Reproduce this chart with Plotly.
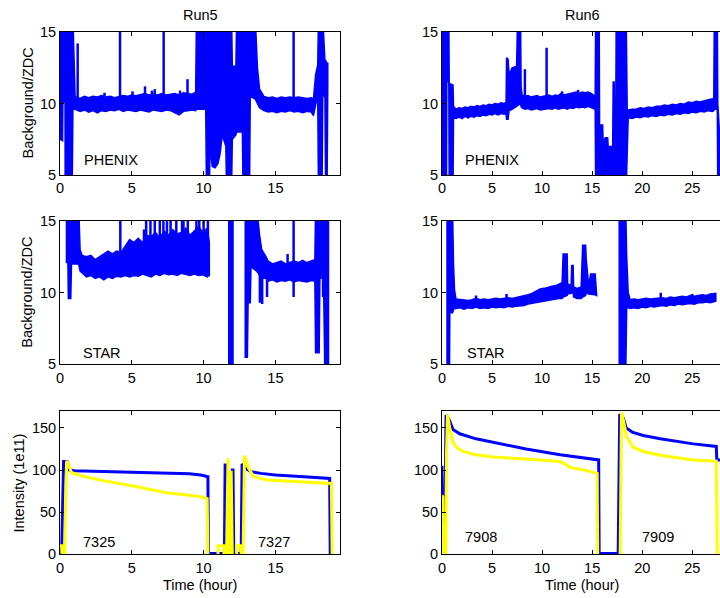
import plotly.graph_objects as go

# ---------------- data ----------------
# Background/ZDC bands: time (h), lower edge, upper edge.  16 / 4 = off-scale (clipped).
# None separates pieces of a band.
r5_phenix_t = [0.00, 0.18, 0.20, 0.35, 0.36, 0.85, 0.90, 1.05,
               1.1, 1.4, 1.7, 2.0, 2.3, 2.6, 2.9, 3.2, 3.5, 3.8, 4.1, 4.4, 4.7, 5.0, 5.3, 5.6, 5.9, 6.2,
               6.5, 6.8, 7.1, 7.4, 7.7, 8.0, 8.3, 8.6, 8.9, 9.2, 9.45,
               9.50, 10.15, 10.20, 10.40, 10.45, 10.60, 10.80, 11.00, 11.15, 11.30, 11.55, 11.60, 11.95,
               12.00, 12.25, 12.30, 12.70, 12.75, 13.20, 13.25, 13.60, 13.75, 13.90,
               14.2, 14.5, 14.8, 15.1, 15.4, 15.7, 16.0, 16.3, 16.6, 16.9, 17.2, 17.5, 17.65,
               17.80, 17.95, 18.00, 18.25, 18.30, 18.45, 18.50, 18.60, 18.65]
r5_phenix_lo = [7.5, 7.4, 10.1, 10.1, 4, 4, 9.6, 9.6,
                9.6, 9.45, 9.55, 9.4, 9.5, 9.35, 9.5, 9.45, 9.55, 9.5, 9.6, 9.45, 9.55, 9.5, 9.45, 9.55, 9.5, 9.4,
                9.55, 9.5, 9.45, 9.55, 9.5, 9.35, 9.2, 9.45, 9.5, 9.55, 9.5,
                9.6, 9.6, 4, 4, 7.0, 5.6, 5.5, 5.8, 6.5, 7.8, 7.0, 4, 4,
                7.5, 7.8, 8.0, 8.0, 4, 4, 10.5, 10.3, 10.0, 9.7,
                9.5, 9.4, 9.45, 9.35, 9.45, 9.4, 9.5, 9.4, 9.45, 9.35, 9.45, 9.4, 9.15,
                9.9, 10.5, 4, 4, 10.5, 10.5, 4, 4, 11.3]
r5_phenix_hi = [16, 16, 16, 16, 16, 16, 16, 10.5,
                10.45, 10.35, 10.5, 10.4, 10.5, 10.45, 10.55, 10.45, 10.5, 10.4, 10.5, 10.55, 10.5, 10.6, 10.55,
                10.6, 10.7, 10.6, 10.65, 10.6, 10.7, 10.6, 10.65, 10.7, 10.6, 10.75, 10.7, 10.65, 10.8,
                16, 16, 16, 16, 16, 16, 16, 16, 16, 16, 16, 16, 16,
                12.6, 12.6, 16, 16, 16, 16, 16, 16, 12.5, 11.0,
                10.5, 10.4, 10.45, 10.35, 10.45, 10.4, 10.45, 10.4, 10.45, 10.4, 10.35, 10.4, 10.3,
                12.0, 12.7, 16, 16, 16, 13.0, 13.0, 12.8, 12.8]
# spikes: time, bottom, top
r5_phenix_spk_t = [1.23, 3.1, 4.18, 5.05, 5.92, 6.4, 6.6, 7.22, 8.36, 8.88, 16.27]
r5_phenix_spk_y0 = [10, 10, 10, 10, 10, 10, 10, 10, 10, 10, 10]
r5_phenix_spk_y1 = [14.2, 10.75, 16, 10.85, 11.2, 10.9, 11.0, 16, 10.9, 11.7, 16]

r5_star_t = [0.45, 0.55, 0.58, 0.75, 0.80, 1.30, 1.40,
             1.55, 1.85, 2.15, 2.45, 2.75, 3.05, 3.35, 3.65, 3.95, 4.25, 4.55, 4.85, 5.15, 5.45, 5.75, 6.05,
             6.35, 6.65, 6.95, 7.25, 7.55, 7.85, 8.15, 8.45, 8.75, 9.05, 9.35, 9.65, 9.95, 10.25, 10.40, None,
             11.75, 12.05, None,
             12.90, 13.05, 13.10, 13.25, 13.30, 13.70, 13.90, 14.05, 14.35,
             14.5, 14.8, 15.1, 15.4, 15.7, 16.0, 16.3, 16.6, 16.9, 17.2, 17.5, 17.75,
             17.80, 18.05, 18.10, 18.35, 18.45, 18.70]
r5_star_lo = [12.1, 12.1, 9.6, 9.6, 12.0, 12.0, 11.5,
              11.4, 11.1, 11.2, 11.0, 11.1, 10.9, 11.1, 11.0, 11.15, 11.1, 11.2, 11.1, 11.2, 11.15, 11.3, 11.2,
              11.1, 11.3, 11.2, 11.35, 11.25, 11.3, 11.2, 11.35, 11.3, 11.2, 11.3, 11.2, 11.25, 11.1, 11.2, None,
              4, 4, None,
              5.5, 5.5, 9.3, 9.3, 11.8, 11.5, 11.2, 11.0, 11.0,
              10.8, 10.9, 10.75, 10.85, 10.8, 10.9, 10.75, 10.85, 10.8, 10.75, 10.85, 10.8,
              5.8, 5.8, 11.0, 11.0, 4, 4]
r5_star_hi = [16, 16, 16, 16, 16, 16, 13.0,
              12.6, 12.5, 12.6, 12.3, 12.5, 12.7, 12.9, 12.7, 12.9, 12.8, 13.3, 13.7, 13.5, 13.8, 13.5, 14.0,
              13.9, 14.2, 13.8, 14.3, 14.0, 14.4, 14.1, 14.2, 14.5, 14.0, 14.3, 14.6, 14.2, 14.5, 13.5, None,
              16, 16, None,
              16, 16, 16, 16, 16, 16, 14.0, 13.0, 12.5,
              12.2, 12.0, 12.1, 12.2, 12.0, 12.1, 12.2, 12.1, 12.25, 12.1, 12.2, 12.3,
              16, 16, 16, 16, 16, 16]
r5_star_spk_t = [4.2, 5.85, 6.0, 6.3, 6.6, 6.95, 7.2, 7.45, 7.7, 8.1, 8.5, 8.6, 8.9, 9.5, 9.7, 10.0, 10.3,
                 13.92, 14.08, 14.42, 15.85, 16.27, 18.32]
r5_star_spk_y0 = [12, 12, 12, 12, 12, 12, 12, 12, 12, 12, 12, 12, 12, 12, 12, 12, 12,
                  9.3, 9.2, 9.7, 11, 9.7, 9.7]
r5_star_spk_y1 = [16, 14.4, 16, 16, 16, 16, 16, 16, 16, 16, 16, 16, 16, 16, 16, 16, 16,
                  12, 12, 12, 12.7, 16, 12]

r6_phenix_t = [0.00, 0.45, 0.48, 0.68, 0.72, 1.10, 1.15,
               1.4, 1.7, 2.0, 2.3, 2.6, 2.9, 3.2, 3.5, 3.8, 4.1, 4.4, 4.7, 5.0, 5.3, 5.6, 5.9, 6.2, 6.4,
               6.45, 6.60, 6.70, 7.0, 7.45, 7.55, 7.85, 7.90,
               8.0, 8.3, 8.6, 8.9, 9.2, 9.5, 9.8, 10.1, 10.4, 10.7, 11.0, 11.3, 11.6, 11.9, 12.2, 12.5, 12.8,
               13.1, 13.4, 13.7, 14.0, 14.3, 14.6, 14.9, 15.3,
               15.35, 15.70, 15.75, 15.85, 16.05, 16.10, 16.30, 16.55, 16.60, 17.05, 17.10, 17.20, 17.25,
               17.35, 17.40, 18.40, 18.50,
               18.6, 19.0, 19.4, 19.8, 20.2, 20.6, 21.0, 21.4, 21.8, 22.2, 22.6, 23.0, 23.4, 23.8, 24.2, 24.6,
               25.0, 25.4, 25.8, 26.2, 26.6, 27.0, 27.15,
               27.2, 27.5, 27.55, 27.8]
r6_phenix_lo = [4, 4, 11.5, 11.5, 4, 4, 9.0,
                8.95, 9.05, 8.95, 9.1, 9.0, 9.1, 9.05, 9.15, 9.1, 9.2, 9.15, 9.25, 9.2, 9.3, 9.2, 9.3, 9.25, 9.3,
                8.9, 8.9, 9.5, 9.6, 9.8, 9.8, 10.0, 9.8,
                9.7, 9.6, 9.65, 9.55, 9.6, 9.65, 9.55, 9.6, 9.6, 9.65, 9.6, 9.7, 9.6, 9.65, 9.7, 9.6, 9.7,
                9.65, 9.75, 9.7, 9.75, 9.7, 9.8, 9.7, 9.6,
                4, 4, 4, 4, 4, 4, 4, 4, 4, 4, 4, 4, 4,
                4, 4, 4, 4,
                9.0, 8.95, 9.05, 9.0, 9.1, 9.05, 9.15, 9.1, 9.2, 9.15, 9.25, 9.2, 9.3, 9.25, 9.35, 9.3,
                9.4, 9.35, 9.45, 9.4, 9.5, 9.45, 9.5,
                9.6, 9.6, 4, 4]
r6_phenix_hi = [16, 16, 16, 16, 11.4, 11.3, 9.8,
                9.6, 9.7, 9.65, 9.75, 9.7, 9.8, 9.75, 9.85, 9.8, 9.9, 9.85, 9.95, 9.9, 10.0, 9.95, 10.05, 10.0, 10.1,
                13.2, 13.1, 12.0, 12.5, 12.6, 16, 16, 11.2,
                10.6, 10.5, 10.55, 10.45, 10.5, 10.55, 10.45, 10.5, 10.55, 10.6, 10.5, 10.6, 10.55, 10.7, 10.6,
                10.65, 10.7, 10.75, 10.8, 10.7, 10.8, 10.75, 10.8, 10.7, 10.5,
                16, 16, 7.2, 8.5, 8.5, 7.2, 7.6, 7.6, 7.0, 7.0, 11.5, 11.5, 7.5,
                7.5, 16, 16, 9.6,
                9.55, 9.6, 9.6, 9.7, 9.65, 9.75, 9.7, 9.8, 9.8, 9.9, 9.85, 9.95, 9.9, 10.0, 9.95, 10.1,
                10.05, 10.15, 10.1, 10.2, 10.25, 10.3, 10.35,
                16, 16, 10.0, 7.0]
r6_phenix_spk_t = [8.28, 10.45, 12.0, 13.6]
r6_phenix_spk_y0 = [10, 10, 10, 10]
r6_phenix_spk_y1 = [12.4, 13.9, 10.85, 10.95]

r6_star_t = [0.50, 0.75, 0.78, 1.05, 1.15, 1.25,
             1.4, 1.8, 2.2, 2.6, 3.0, 3.4, 3.8, 4.2, 4.6, 5.0, 5.4, 5.8, 6.2, 6.6, 7.0, 7.4, 7.8, 8.2, 8.6,
             9.0, 9.4, 9.8, 10.2, 10.6, 11.0, 11.4, 11.8, 12.0,
             12.10, 12.50, 12.55, 12.9, 12.95, 13.10, 13.15, 13.5, 13.9, 14.05, 14.35, 14.40, 14.65, 14.85,
             15.30, 15.45, None,
             17.70, 18.35, 18.45, 18.60,
             18.8, 19.2, 19.6, 20.0, 20.4, 20.8, 21.2, 21.6, 22.0, 22.4, 22.8, 23.2, 23.6, 24.0, 24.4, 24.8,
             25.2, 25.6, 26.0, 26.4, 26.8, 27.35]
r6_star_lo = [4, 4, 8.6, 8.6, 8.8, 8.9,
              8.9, 8.95, 8.85, 8.95, 8.9, 9.0, 8.9, 8.95, 8.9, 9.0, 8.95, 9.0, 8.95, 9.05, 9.0, 9.05, 9.1, 9.1, 9.2,
              9.25, 9.35, 9.4, 9.45, 9.5, 9.5, 9.55, 9.6, 9.6,
              9.7, 9.8, 9.9, 9.95, 10.0, 10.0, 9.7, 9.6, 9.6, 9.7, 9.8, 10.0, 9.9, 9.9,
              9.85, 9.8, None,
              4, 4, 9.0, 8.95,
              8.9, 8.95, 8.9, 9.0, 8.95, 9.05, 9.0, 9.05, 9.1, 9.05, 9.15, 9.1, 9.2, 9.15, 9.2, 9.25,
              9.2, 9.3, 9.3, 9.35, 9.3, 9.4]
r6_star_hi = [16, 16, 16, 16, 12.0, 10.2,
              9.55, 9.5, 9.5, 9.45, 9.5, 9.6, 9.5, 9.55, 9.5, 9.55, 9.6, 9.55, 9.6, 9.65, 9.6, 9.65, 9.7, 9.75, 9.85,
              9.95, 10.1, 10.25, 10.3, 10.4, 10.45, 10.5, 10.6, 10.7,
              12.7, 12.7, 10.6, 10.5, 11.9, 11.9, 10.4, 10.3, 10.4, 13.3, 13.3, 12.4, 10.5, 11.3,
              11.3, 10.1, None,
              16, 16, 12.5, 10.0,
              9.5, 9.55, 9.5, 9.55, 9.6, 9.55, 9.6, 9.6, 9.65, 9.6, 9.7, 9.65, 9.7, 9.75, 9.7, 9.8,
              9.75, 9.8, 9.85, 9.8, 9.9, 9.95]
r6_star_spk_t = [3.4, 6.45, 21.85, 25.0]
r6_star_spk_y0 = [9.3, 9.3, 9.3, 9.5]
r6_star_spk_y1 = [9.8, 9.9, 10.0, 9.9]

# Intensity (1e11): blue and yellow beams
r5_blue_t = [0, 0.1, 0.12, 0.25, 0.5, 0.65, 1.0, 3.0, 5.0, 7.0, 9.0, 9.8, 10.2, 10.3, 10.34, 11.45, 11.5,
             11.58, 11.62, 11.95, 12.0, 12.05, 12.1, 12.62, 12.68, 12.75, 13.0, 13.3, 14.0, 15.0, 17.0,
             18.5, 18.78, 18.82]
r5_blue_y = [0, 0, 5, 110, 110, 100, 99, 98, 97, 96, 95.5, 94, 92, 92, 1, 1, 106,
             106, 1, 1, 100, 100, 1, 1, 107, 106, 101, 98, 96, 94, 92,
             91, 90, 0]
r5_yellow_t = [0, 0.12, 0.14, 0.33, 0.38, 0.47, 0.55, 0.8, 1.5, 2.8, 5.1, 7.4, 9.0, 9.9, 10.25, 10.3, None,
               11.0, 11.02, 11.4, 11.42, 11.6, 11.7, 11.8, 11.85, 11.92, 12.0, None,
               12.3, 12.32, 12.6, 12.62, 12.75, 12.85, 13.1, 13.5, 14.4, 16.7, 18.9, 18.95]
r5_yellow_y = [10, 10, 0, 0, 60, 111, 108, 97, 93, 88, 81, 73, 70, 68, 66, 0, None,
               0, 10, 10, 0, 0, 114, 0, 0, 99, 0, None,
               0, 10, 10, 0, 0, 117, 103, 92, 88, 86, 84, 0]

r6_blue_t = [0, 0.05, 0.1, 0.27, 0.4, 0.55, 0.77, 1.1, 1.77, 3.4, 5.1, 8.4, 11.8, 15.1, 15.65, 15.7,
             17.55, 17.6, 17.75, 18.1, 18.4, 19.0, 20.1, 21.8, 25.1, 27.4, 27.45, 27.8]
r6_blue_y = [105, 70, 0, 0, 165, 163, 158, 148, 143, 137, 133, 125, 118, 113, 112, 1,
             1, 1, 166, 162, 150, 145, 141, 137, 131, 128, 112, 112]
r6_yellow_t = [0, 0.08, 0.1, 0.37, 0.45, 0.55, 0.77, 1.1, 1.43, 2.1, 3.4, 5.1, 8.4, 11.1, 11.8, 12.3, 12.8,
               13.8, 14.8, 15.5, 15.55, None,
               17.8, 17.85, 17.93, 18.1, 18.43, 19.1, 20.1, 21.8, 25.1, 27.4, 27.5]
r6_yellow_y = [70, 68, 0, 0, 120, 166, 150, 133, 127, 122, 118, 115.5, 113, 111, 110, 107, 103,
               101, 98, 96, 0, None,
               0, 120, 168, 160, 140, 127, 122, 117.5, 112, 110.5, 0]

fill_labels = ["7325", "7327", "7908", "7909"]
titles = ["Run5", "Run6"]
bg_ticks = [5, 10, 15]
int_ticks = [0, 50, 100, 150]
left_xticks = [0, 5, 10, 15]
right_xticks = [0, 5, 10, 15, 20, 25]

# ---------------- figure ----------------
FONT = "Liberation Sans, Arial, Helvetica, sans-serif"
FS = 14.5
BLUE = "#0000FF"
YELLOW = "#FFFF00"

fig = go.Figure()


def band_polygon(t, lo, hi):
    """Closed outline(s) of the band; None splits separate pieces."""
    xs, ys = [], []
    seg = []
    for a, b, c in list(zip(t, lo, hi)) + [(None, None, None)]:
        if a is None:
            if seg:
                st = [s[0] for s in seg]
                sl = [s[1] for s in seg]
                sh = [s[2] for s in seg]
                xs += st + st[::-1] + [st[0], None]
                ys += sh + sl[::-1] + [sh[0], None]
            seg = []
        else:
            seg.append((a, b, c))
    return xs, ys


def spike_path(t, y0, y1):
    xs, ys = [], []
    for a, b, c in zip(t, y0, y1):
        xs += [a, a, None]
        ys += [b, c, None]
    return xs, ys


bands = [(r5_phenix_t, r5_phenix_lo, r5_phenix_hi, r5_phenix_spk_t, r5_phenix_spk_y0, r5_phenix_spk_y1, "x", "y"),
         (r6_phenix_t, r6_phenix_lo, r6_phenix_hi, r6_phenix_spk_t, r6_phenix_spk_y0, r6_phenix_spk_y1, "x2", "y2"),
         (r5_star_t, r5_star_lo, r5_star_hi, r5_star_spk_t, r5_star_spk_y0, r5_star_spk_y1, "x3", "y3"),
         (r6_star_t, r6_star_lo, r6_star_hi, r6_star_spk_t, r6_star_spk_y0, r6_star_spk_y1, "x4", "y4")]
for t, lo, hi, st, s0, s1, xa, ya in bands:
    px, py = band_polygon(t, lo, hi)
    fig.add_trace(go.Scatter(x=px, y=py, mode="lines", fill="toself", fillcolor=BLUE,
                             line=dict(color=BLUE, width=1.5), xaxis=xa, yaxis=ya,
                             showlegend=False, hoverinfo="skip"))
    sx, sy = spike_path(st, s0, s1)
    fig.add_trace(go.Scatter(x=sx, y=sy, mode="lines", line=dict(color=BLUE, width=2.5),
                             xaxis=xa, yaxis=ya, showlegend=False, hoverinfo="skip",
                             connectgaps=False))

for (bt, by, yt, yy, xa, ya) in [(r5_blue_t, r5_blue_y, r5_yellow_t, r5_yellow_y, "x5", "y5"),
                                 (r6_blue_t, r6_blue_y, r6_yellow_t, r6_yellow_y, "x6", "y6")]:
    fig.add_trace(go.Scatter(x=bt, y=by, mode="lines", line=dict(color=BLUE, width=3),
                             xaxis=xa, yaxis=ya, showlegend=False, connectgaps=False))
    fig.add_trace(go.Scatter(x=yt, y=yy, mode="lines", line=dict(color=YELLOW, width=3),
                             xaxis=xa, yaxis=ya, showlegend=False, connectgaps=False))

W, H = 720, 598
xl = [60 / W, 340 / W]
xr = [442 / W, 1.0]
rows = [[1 - 175 / H, 1 - 32 / H], [1 - 364.3 / H, 1 - 221 / H], [1 - 554.3 / H, 1 - 411 / H]]

common = dict(showline=True, linecolor="black", linewidth=1, ticks="inside", ticklen=4,
              tickcolor="black", showgrid=False, zeroline=False, automargin=False,
              tickfont=dict(family=FONT, size=FS, color="black"))

layout = dict(width=W, height=H, autosize=False,
              margin=dict(l=0, r=0, t=0, b=0, pad=0, autoexpand=False),
              paper_bgcolor="white", plot_bgcolor="white", showlegend=False, hovermode=False)

axes_def = [  # (x name, y name, xdomain, ydomain, xrange, yrange, xticks, yticks, right column?)
    ("xaxis", "yaxis", xl, rows[0], [0, 19.5], [5, 15], left_xticks, bg_ticks, False),
    ("xaxis2", "yaxis2", xr, rows[0], [0, 27.77], [5, 15], right_xticks, bg_ticks, True),
    ("xaxis3", "yaxis3", xl, rows[1], [0, 19.5], [5, 15], left_xticks, bg_ticks, False),
    ("xaxis4", "yaxis4", xr, rows[1], [0, 27.77], [5, 15], right_xticks, bg_ticks, True),
    ("xaxis5", "yaxis5", xl, rows[2], [0, 19.5], [0, 170], left_xticks, int_ticks, False),
    ("xaxis6", "yaxis6", xr, rows[2], [0, 27.77], [0, 170], right_xticks, int_ticks, True),
]
for i, (xn, yn, xd, yd, xrg, yrg, xt, yt, right) in enumerate(axes_def, start=1):
    sfx = "" if i == 1 else str(i)
    layout[xn] = dict(common, domain=xd, range=xrg, tickvals=xt, mirror="ticks",
                      anchor="y" + sfx)
    layout[yn] = dict(common, domain=yd, range=yrg, tickvals=yt,
                      mirror=(False if right else "ticks"), anchor="x" + sfx)

fig.update_layout(**layout)

ann = []
f = dict(family=FONT, size=FS, color="black")


def paper_text(text, xp, yp, angle=0):
    return dict(text=text, x=xp / W, y=1 - yp / H, xref="paper", yref="paper",
                xanchor="center", yanchor="middle", textangle=angle, showarrow=False, font=f)


ann.append(paper_text(titles[0], 200, 15))
ann.append(paper_text(titles[1], 582, 15))
for yc in [103.5, 292.7]:
    ann.append(paper_text("Background/ZDC", 27, yc, -90))
ann.append(paper_text("Intensity (1e11)", 18.5, 483, -90))
for xc in [200, 582]:
    ann.append(paper_text("Time (hour)", xc, 585))


def data_text(text, x, y, sfx):
    return dict(text=text, x=x, y=y, xref="x" + sfx, yref="y" + sfx, xanchor="left",
                yanchor="middle", showarrow=False, font=f)


ann += [
    data_text("PHENIX", 1.5, 6.05, ""),
    data_text("PHENIX", 2.07, 6.05, "2"),
    data_text("STAR", 1.46, 5.77, "3"),
    data_text("STAR", 2.27, 5.77, "4"),
    data_text(fill_labels[0], 1.46, 15, "5"),
    data_text(fill_labels[1], 13.66, 15, "5"),
    data_text(fill_labels[2], 2.1, 20, "6"),
    data_text(fill_labels[3], 19.77, 20, "6"),
]
fig.update_layout(annotations=ann)

fig.write_html("out.html", config={"displayModeBar": False},
               post_script="document.body.style.margin='0';"
                           "document.body.style.overflow='hidden';")
